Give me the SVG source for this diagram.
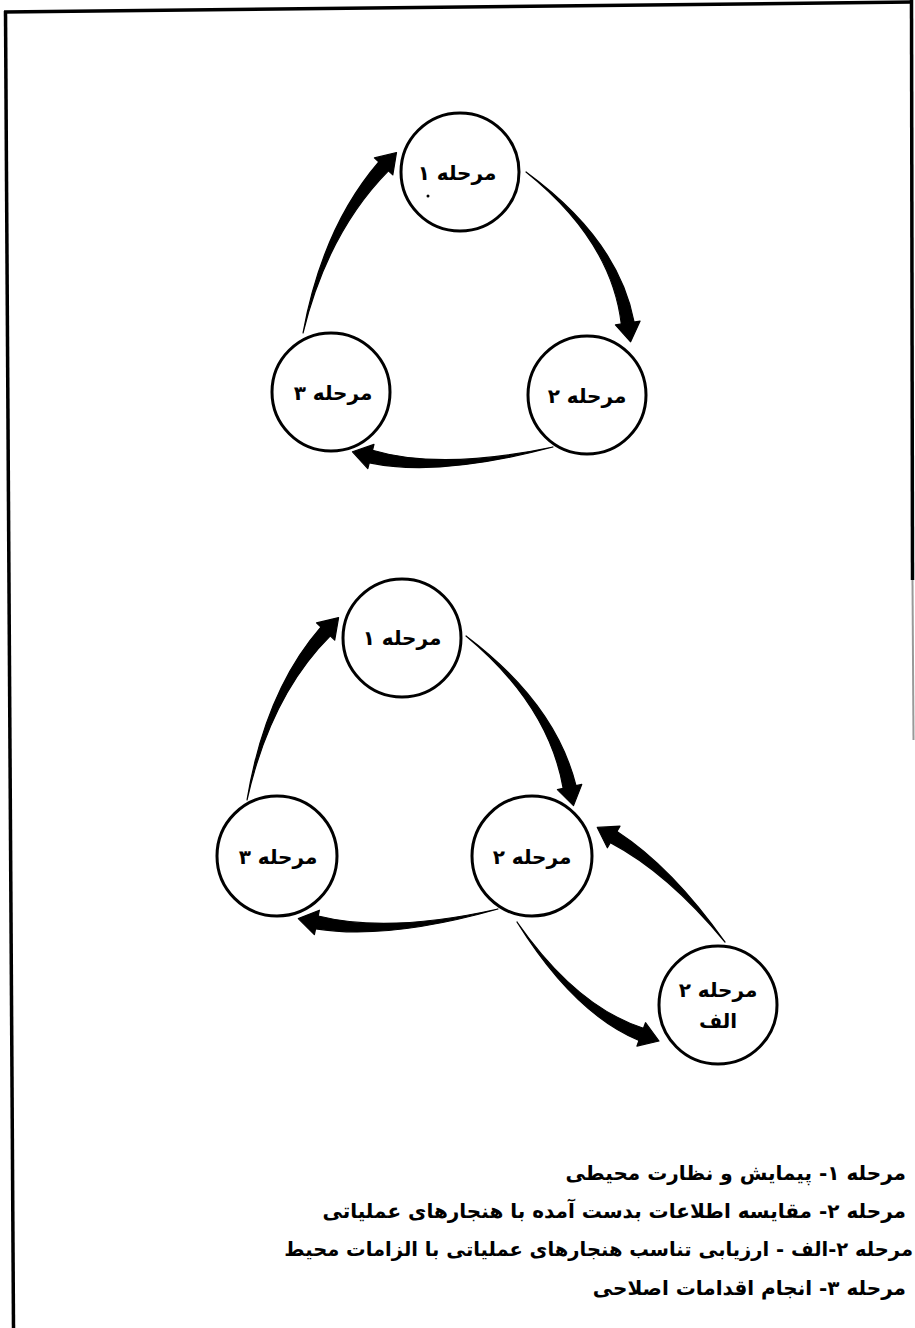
<svg xmlns="http://www.w3.org/2000/svg" width="915" height="1328" viewBox="0 0 915 1328">
<style>
.frame line{stroke:#000;stroke-width:3.5}
.node circle{fill:#fff;stroke:#000;stroke-width:3}
.lbl{font-family:"DejaVu Sans",sans-serif;font-size:20px;font-weight:bold;text-anchor:middle;fill:#000}
.arrows path,.arrows polygon{fill:#000;stroke:#000;stroke-width:1.2;stroke-linejoin:round}
.legend text{font-family:"DejaVu Sans",sans-serif;font-size:20px;font-weight:bold;fill:#000;direction:rtl;text-anchor:start}
</style>
<rect width="915" height="1328" fill="#fff"/>
<g class="frame">
<line x1="4" y1="12" x2="912" y2="2"/>
<line x1="5.5" y1="11" x2="13.5" y2="1328"/>
<line x1="911.5" y1="0" x2="912.5" y2="580"/>
<line x1="912.5" y1="580" x2="913.5" y2="740" style="stroke:#999;stroke-width:2"/>
</g>
<g class="arrows" id="connectors">
<path d="M303,333 Q327.6,232.4 388.4,170.8 L378.8,162 Q322.4,227.6 303,333 Z"/>
<polygon points="392.8,174.9 374.4,157.9 396.5,152.5"/>
<path d="M526,172 Q611.5,240.5 621.3,324 L634.1,322 Q618.5,239.5 526,172 Z"/>
<polygon points="615.4,324.9 640.1,321.1 630.6,341.8"/>
<path d="M553,447 Q440.9,470.6 372.5,450.2 L369.3,462.8 Q439.1,477.4 553,447 Z"/>
<polygon points="374,444.4 367.8,468.6 352.5,451.8"/>
<path d="M247,800 Q270.6,695.4 330.3,635.9 L320.9,627.1 Q265.4,690.6 247,800 Z"/>
<polygon points="334.7,640.1 316.5,622.9 338.6,617.6"/>
<path d="M466,636 Q548.6,704.7 563.2,788.3 L576,785.7 Q555.4,703.3 466,636 Z"/>
<polygon points="557.4,789.6 581.8,784.4 573.5,805.6"/>
<path d="M498,909 Q388.7,933.6 318.2,916 L315.6,928.8 Q387.3,940.4 498,909 Z"/>
<polygon points="319.4,910.2 314.4,934.7 298.3,918.6"/>
<path d="M517,922 Q573.8,1013.3 639,1040.5 L643.4,1028.3 Q576.2,1006.7 517,922 Z"/>
<polygon points="636.9,1046.1 645.5,1022.7 659,1041"/>
<path d="M725,942 Q671.8,867 617,831.4 L610.4,842.6 Q668.2,873 725,942 Z"/>
<polygon points="620,826.2 607.4,847.8 597.3,827.4"/>
</g>
<g id="top-stage1" class="node"><circle cx="460" cy="172" r="59"/><text class="lbl" x="457" y="180">مرحله ۱</text><circle cx="428" cy="196" r="1.5" style="fill:#000;stroke:none"/></g>
<g id="top-stage2" class="node"><circle cx="587" cy="395" r="59"/><text class="lbl" x="587" y="403">مرحله ۲</text></g>
<g id="top-stage3" class="node"><circle cx="331" cy="392" r="59"/><text class="lbl" x="333" y="400">مرحله ۳</text></g>
<g id="bot-stage1" class="node"><circle cx="402" cy="638" r="59"/><text class="lbl" x="402" y="645">مرحله ۱</text></g>
<g id="bot-stage2" class="node"><circle cx="532" cy="856" r="60"/><text class="lbl" x="532" y="864">مرحله ۲</text></g>
<g id="bot-stage3" class="node"><circle cx="277" cy="856" r="60"/><text class="lbl" x="278" y="864">مرحله ۳</text></g>
<g id="bot-stage2a" class="node"><circle cx="718" cy="1005" r="59"/><text class="lbl" x="718" y="997">مرحله ۲</text><text class="lbl" x="718" y="1028">الف</text></g>
<g class="legend" id="legend">
<text x="906" y="1180">مرحله ۱- پیمایش و نظارت محیطی</text>
<text x="906" y="1218">مرحله ۲- مقایسه اطلاعات بدست آمده با هنجارهای عملیاتی</text>
<text x="913" y="1256" style="font-size:19.5px">مرحله ۲-الف - ارزیابی تناسب هنجارهای عملیاتی با الزامات محیط</text>
<text x="906" y="1295">مرحله ۳- انجام اقدامات اصلاحی</text>
</g>
</svg>
